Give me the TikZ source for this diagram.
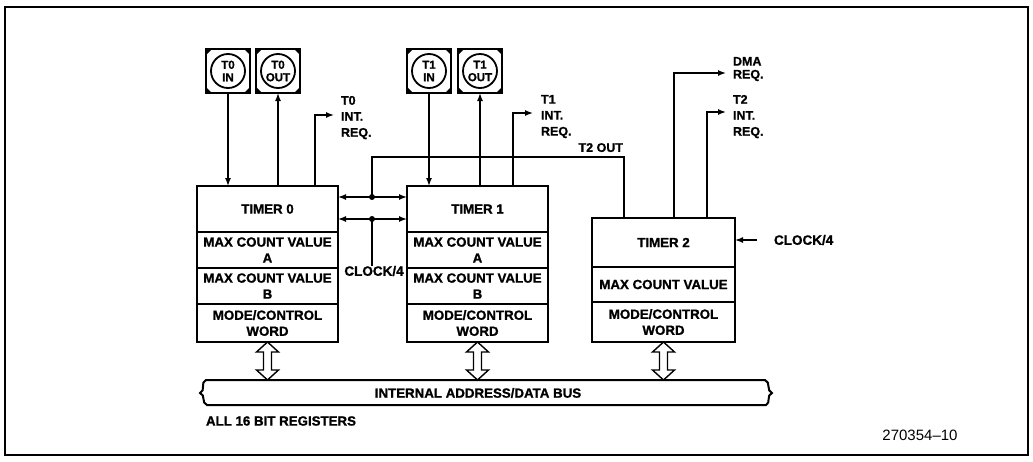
\documentclass[tikz,border=0pt]{standalone}
\usepackage{fontspec}
\setmainfont{Liberation Sans}[BoldFeatures={FakeBold=1.2}]
\usetikzlibrary{arrows.meta}
\tikzset{
  sec/.style={draw, line width=2pt, inner sep=0pt, outer sep=0pt, align=center,
    font=\fontsize{13.3}{16}\selectfont\bfseries},
  pinbox/.style={draw, line width=2.2pt, minimum size=44pt, inner sep=0pt, outer sep=0pt,
    align=center, font=\fontsize{11.5}{12.5}\selectfont\bfseries},
  conn/.style={line width=1.4pt},
  arr/.style={conn, -{Latex[length=8pt,width=6pt]}},
  darr/.style={conn, {Latex[length=8pt,width=6pt]}-{Latex[length=8pt,width=6pt]}},
  lbl/.style={font=\fontsize{12.5}{16}\selectfont\bfseries, align=left, inner sep=0pt, outer sep=0pt},
  biglbl/.style={font=\fontsize{13.3}{16}\selectfont\bfseries, inner sep=0pt, outer sep=0pt},
  dot/.style={circle, fill, inner sep=0pt, minimum size=6pt},
  hollow/.style={line width=1.4pt, fill=white, line join=miter},
}
\newcommand\pindeco[1]{%
  \draw[line width=1.8pt] (#1.center) circle (17pt);
  \fill (#1.north west) -- ++(6,0) -- ++(-6,6) -- cycle;
  \fill (#1.north east) -- ++(-6,0) -- ++(6,6) -- cycle;
  \fill (#1.south west) -- ++(6,0) -- ++(-6,-6) -- cycle;
  \fill (#1.south east) -- ++(-6,0) -- ++(6,-6) -- cycle;
}
\newcommand\dblarrow[1]{%
  \draw[hollow] (#1) -- ++(11,10) -- ++(-7,0) -- ++(0,18) -- ++(7,0) -- ++(-11,10)
    -- ++(-11,-10) -- ++(7,0) -- ++(0,-18) -- ++(-7,0) -- cycle;
}
\begin{document}
\begin{tikzpicture}[x=1pt,y=-1pt]
\useasboundingbox (0,0) rectangle (1033,461);
\draw[line width=1.2pt] (5,7) rectangle (1028,455);

% Timer 0
\node[sec, minimum width=141, minimum height=46] (t0h) at (267.5,209) {TIMER 0};
\node[sec, minimum width=141, minimum height=36] (t0a) at (267.5,250) {MAX COUNT VALUE\\A};
\node[sec, minimum width=141, minimum height=36] (t0b) at (267.5,286) {MAX COUNT VALUE\\B};
\node[sec, minimum width=141, minimum height=38] (t0m) at (267.5,323) {MODE/CONTROL\\WORD};
% Timer 1
\node[sec, minimum width=141, minimum height=46] (t1h) at (477.5,209) {TIMER 1};
\node[sec, minimum width=141, minimum height=36] (t1a) at (477.5,250) {MAX COUNT VALUE\\A};
\node[sec, minimum width=141, minimum height=36] (t1b) at (477.5,286) {MAX COUNT VALUE\\B};
\node[sec, minimum width=141, minimum height=38] (t1m) at (477.5,323) {MODE/CONTROL\\WORD};
% Timer 2
\node[sec, minimum width=143, minimum height=49] (t2h) at (663.5,242.5) {TIMER 2};
\node[sec, minimum width=143, minimum height=35] (t2a) at (663.5,284.5) {MAX COUNT VALUE};
\node[sec, minimum width=143, minimum height=40] (t2m) at (663.5,322) {MODE/CONTROL\\WORD};

% pins
\node[pinbox] (t0in) at (228,71) {T0\\IN};
\node[pinbox] (t0out) at (278,71) {T0\\OUT};
\node[pinbox] (t1in) at (429,71) {T1\\IN};
\node[pinbox] (t1out) at (480,71) {T1\\OUT};
\pindeco{t0in}\pindeco{t0out}\pindeco{t1in}\pindeco{t1out}

\draw[arr] (t0in.south) -- (t0in.south |- t0h.north);
\draw[arr] (t0out.south |- t0h.north) -- (t0out.south);
\draw[arr] (t1in.south) -- (t1in.south |- t1h.north);
\draw[arr] (t1out.south |- t1h.north) -- (t1out.south);

% interrupt requests
\node[lbl, anchor=north west] (t0req) at (341,96) {T0\\INT.\\REQ.};
\node[lbl, anchor=north west] (t1req) at (541,95) {T1\\INT.\\REQ.};
\node[lbl, anchor=north west] (t2req) at (733,95) {T2\\INT.\\REQ.};
\node[lbl, anchor=north west, font=\fontsize{12.5}{13}\selectfont\bfseries] (dmareq) at (733,57) {DMA\\REQ.};
\coordinate (t0i) at (315,186);  \coordinate (t0ie) at (334,115);
\coordinate (t1i) at (513,186);  \coordinate (t1ie) at (533,113);
\coordinate (t2i) at (707,218);  \coordinate (t2ie) at (726,112);
\coordinate (dmi) at (674,218);  \coordinate (dmie) at (726,73);
\draw[arr] (t0i) |- (t0ie);
\draw[arr] (t1i) |- (t1ie);
\draw[arr] (t2i) |- (t2ie);
\draw[arr] (dmi) |- (dmie);

% T2 OUT feed and clock
\coordinate (t2o) at (624,218);
\coordinate (t2top) at (372,157);
\node[dot] (dU) at (372,197) {};
\node[dot] (dL) at (372,219) {};
\node[biglbl, anchor=south east, font=\fontsize{12.5}{14}\selectfont\bfseries] (t2outl) at (623,152) {T2 OUT};
\draw[conn] (t2o) |- (t2top) -- (dU.center);
\draw[darr] (t0h.east |- dU) -- (t1h.west |- dU);
\draw[darr] (t0h.east |- dL) -- (t1h.west |- dL);
\node[biglbl, font=\fontsize{13.5}{16}\selectfont\bfseries] (clkm) at (374,271) {CLOCK/4};
\draw[conn] (dL.center) -- (clkm.north -| dL);
\node[biglbl, anchor=west, font=\fontsize{13.5}{16}\selectfont\bfseries] (clkr) at (774,240) {CLOCK/4};
\draw[arr] ([xshift=-17pt]clkr.west) -- (t2h.east |- clkr.west);

% bus
\draw[line width=2pt, fill=white] (206,380) -- (765,380)
  .. controls (771,382) and (766,391) .. (772,393)
  .. controls (766,395) and (771,403) .. (766,405)
  -- (207,405)
  .. controls (201,403) and (206,395) .. (200,393)
  .. controls (206,391) and (200,382) .. (206,380) -- cycle;
\node[biglbl] (busl) at (478,393) {INTERNAL ADDRESS/DATA BUS};
\dblarrow{t0m.south}
\dblarrow{t1m.south}
\dblarrow{t2m.south}

\node[biglbl, anchor=west] (regs) at (206,421) {ALL 16 BIT REGISTERS};
\node[inner sep=0pt, font=\fontsize{15}{18}\selectfont] (fig) at (920,435) {270354--10};
\end{tikzpicture}
\end{document}
